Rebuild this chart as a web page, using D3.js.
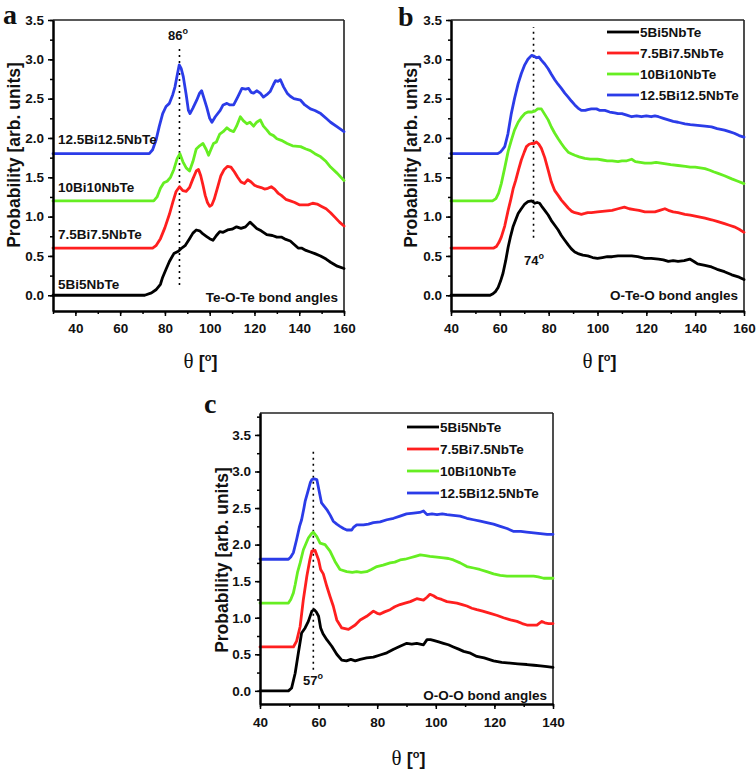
<!DOCTYPE html>
<html><head><meta charset="utf-8">
<script src="https://cdn.jsdelivr.net/npm/d3@7"></script>
<style>
body{margin:0;background:#fff}
svg{display:block}
text{font-family:"Liberation Sans",Arial,sans-serif;font-weight:bold;fill:#111}
</style>
</head><body><svg id="chart" width="756" height="772"></svg>
<script>
// ---------- data ----------
const seriesNames = ["5Bi5NbTe","7.5Bi7.5NbTe","10Bi10NbTe","12.5Bi12.5NbTe"];
const seriesColors = ["#000000","#ff1f1f","#66ee22","#2b3ce8"];
const yTickValues = [0,0.5,1.0,1.5,2.0,2.5,3.0,3.5];

// (a) Te-O-Te bond angles  [theta, probability]
const teOte_5Bi = [[30,0],[71,0],[74,0.03],[76,0.07],[78,0.14],[79,0.23],[80.5,0.33],[82,0.43],[84,0.53],[86,0.56],[87.5,0.6],[89,0.63],[91,0.72],[92.5,0.79],[94,0.83],[95.5,0.82],[97,0.78],[98.5,0.75],[100,0.72],[101.5,0.7],[103,0.76],[104.5,0.81],[106,0.8],[108,0.83],[110,0.84],[112,0.87],[114,0.85],[116,0.87],[118,0.93],[119.5,0.89],[121,0.85],[123,0.82],[125.5,0.77],[128,0.76],[130,0.74],[132,0.74],[134,0.71],[136,0.69],[138,0.64],[139.5,0.6],[141,0.6],[143,0.57],[145,0.55],[147,0.53],[149.5,0.5],[152,0.46],[154,0.42],[157,0.37],[160,0.34]];
const teOte_7Bi = [[30,0.6],[74.5,0.6],[76,0.63],[78,0.72],[80,0.86],[82,1.03],[83.5,1.18],[85,1.32],[86.5,1.38],[88,1.33],[89.5,1.32],[91,1.37],[92.5,1.48],[94,1.58],[95,1.6],[96,1.52],[97,1.4],[98,1.27],[99,1.18],[100,1.13],[101,1.15],[102,1.22],[103.5,1.37],[105,1.52],[106.5,1.6],[108,1.64],[109.5,1.63],[111,1.57],[112.5,1.5],[114,1.44],[115.5,1.42],[117,1.47],[118.5,1.44],[120,1.4],[121.5,1.38],[123,1.37],[124.5,1.35],[126,1.36],[127.5,1.38],[129,1.35],[130.5,1.3],[132,1.27],[134,1.22],[136,1.2],[138,1.18],[140,1.15],[142,1.15],[144,1.15],[146,1.17],[148,1.16],[150,1.13],[152,1.1],[154,1.05],[156,0.99],[158,0.93],[160,0.88]];
const teOte_10Bi = [[30,1.2],[75,1.2],[76.5,1.25],[78,1.36],[79.5,1.43],[81,1.45],[82.5,1.5],[84,1.6],[85.5,1.74],[86.7,1.8],[88,1.7],[89.5,1.62],[91,1.58],[92.5,1.7],[94,1.86],[95.5,1.9],[97,1.93],[98.5,1.85],[99.5,1.78],[100.5,1.85],[101.7,1.93],[103,1.95],[104.5,2.05],[106,2.08],[107.7,2.13],[109,2.1],[110.7,2.08],[112,2.15],[113.7,2.27],[115,2.22],[116.6,2.18],[118,2.2],[119.6,2.15],[121,2.2],[122.6,2.23],[124,2.15],[125.6,2.1],[127,2.05],[128.5,2.03],[130,1.99],[132,1.97],[134.6,1.93],[137,1.9],[140.6,1.89],[143,1.86],[145,1.84],[147,1.8],[149.6,1.76],[152,1.7],[154,1.63],[157,1.55],[160,1.46]];
const teOte_12Bi = [[30,1.8],[73,1.8],[74.5,1.85],[76,1.97],[77.5,2.15],[79,2.31],[80.5,2.4],[82,2.44],[83.5,2.55],[84.5,2.65],[85.5,2.8],[86.4,2.93],[87.3,2.88],[88.2,2.78],[89.5,2.55],[90.5,2.35],[91.2,2.31],[92.5,2.38],[94.2,2.48],[95.5,2.57],[96.4,2.6],[97.5,2.5],[98.7,2.39],[100,2.25],[101,2.2],[102.5,2.27],[104.7,2.35],[106,2.42],[107.7,2.44],[109,2.42],[110.7,2.42],[112.5,2.52],[114.4,2.63],[116,2.62],[117.4,2.63],[118.5,2.58],[119.6,2.57],[121,2.6],[122.6,2.57],[124,2.52],[125.5,2.55],[127,2.59],[128.5,2.68],[129.4,2.73],[130.5,2.72],[131.6,2.74],[133,2.65],[134.6,2.57],[136,2.53],[137.6,2.5],[140.6,2.48],[142.5,2.42],[145,2.37],[147,2.35],[149.6,2.31],[152,2.25],[154,2.2],[157,2.14],[160,2.08]];

// (b) O-Te-O bond angles
const oTeo_5Bi = [[40,0],[56,0],[57.2,0.02],[58.3,0.05],[59.3,0.1],[60.3,0.18],[61.3,0.28],[62.4,0.44],[63.4,0.61],[64.4,0.75],[65.4,0.87],[66.5,0.96],[67.5,1.04],[68.8,1.1],[70.2,1.16],[71.5,1.19],[73,1.2],[74.3,1.17],[75.3,1.18],[76.3,1.17],[77.4,1.12],[78.4,1.08],[79.8,1.02],[81.1,0.95],[82.5,0.89],[83.9,0.83],[85.2,0.76],[86.6,0.7],[88,0.64],[89.3,0.59],[90.7,0.55],[92,0.53],[94,0.51],[96,0.5],[98,0.48],[100,0.47],[102,0.48],[104,0.49],[106,0.49],[108.4,0.5],[111,0.5],[114,0.5],[116.5,0.49],[119.4,0.47],[122,0.47],[125,0.46],[127,0.45],[129,0.43],[131,0.44],[133,0.43],[135.5,0.44],[137.8,0.46],[139.5,0.43],[141,0.4],[144,0.38],[146.7,0.36],[149,0.33],[152,0.3],[155,0.26],[158,0.23],[160,0.2]];
const oTeo_7Bi = [[40,0.6],[57.5,0.6],[58.6,0.62],[59.6,0.67],[60.6,0.74],[62,0.88],[63.4,1.08],[64.5,1.22],[65.5,1.36],[66.5,1.46],[67.7,1.6],[68.8,1.72],[70,1.82],[70.9,1.89],[72,1.92],[73,1.93],[74,1.93],[75,1.95],[76,1.92],[77,1.87],[78.4,1.75],[79.8,1.59],[81.1,1.44],[82.5,1.33],[83.9,1.27],[85.2,1.21],[86.6,1.16],[88,1.11],[89.3,1.07],[90.7,1.05],[92,1.04],[93.4,1.03],[94.8,1.04],[96,1.05],[97.5,1.05],[100,1.06],[103,1.07],[106,1.08],[108.4,1.1],[111,1.12],[113,1.1],[115,1.09],[117,1.08],[119.4,1.06],[121.5,1.06],[123.5,1.06],[125.5,1.08],[127.6,1.1],[129,1.08],[131,1.06],[133,1.05],[135.8,1.03],[138,1.02],[141,1.0],[144,0.98],[146.7,0.96],[149,0.94],[152,0.91],[154,0.89],[156,0.87],[158,0.84],[160,0.8]];
const oTeo_10Bi = [[40,1.2],[57,1.2],[58.4,1.23],[59.5,1.3],[60.6,1.42],[62,1.62],[63.4,1.83],[64.7,1.97],[66,2.1],[67.5,2.2],[68.8,2.26],[70.2,2.31],[71.5,2.33],[73,2.33],[74.3,2.34],[75.5,2.37],[77,2.37],[78.4,2.3],[79.8,2.23],[81.1,2.14],[82.5,2.06],[83.9,1.99],[85.2,1.93],[86.6,1.87],[88,1.82],[89.3,1.8],[90.7,1.78],[92.5,1.76],[94.8,1.74],[97,1.73],[100,1.73],[102,1.72],[104,1.71],[106,1.71],[108.4,1.7],[110,1.71],[112,1.71],[114,1.73],[115.5,1.7],[117.5,1.69],[119.4,1.68],[122,1.68],[124,1.69],[126,1.68],[128,1.67],[130,1.66],[133,1.65],[136,1.64],[138,1.63],[140,1.63],[142,1.62],[144,1.61],[146,1.59],[147.5,1.57],[149.4,1.55],[152,1.52],[155,1.48],[157.5,1.45],[160,1.42]];
const oTeo_12Bi = [[40,1.8],[59,1.8],[60.2,1.82],[61,1.85],[62,1.89],[63.3,2.05],[64.7,2.31],[66,2.5],[67.5,2.69],[68.8,2.82],[70.2,2.93],[71.5,3.0],[73,3.05],[74,3.04],[75,3.02],[76,3.03],[77,2.99],[78.4,2.94],[79.8,2.88],[81.1,2.81],[82.5,2.74],[83.9,2.68],[85.2,2.63],[86.6,2.57],[88,2.52],[89.3,2.47],[90.7,2.42],[92,2.38],[93.4,2.35],[95,2.35],[96,2.36],[97.5,2.37],[99.6,2.37],[101,2.35],[103,2.35],[105,2.33],[107,2.32],[108.4,2.31],[110,2.31],[112,2.29],[114,2.27],[116,2.28],[118,2.27],[120,2.28],[122,2.27],[123.5,2.28],[125,2.27],[127,2.25],[129,2.23],[131,2.21],[133,2.2],[135.8,2.18],[138,2.17],[141,2.16],[144,2.15],[146.7,2.14],[149,2.12],[152,2.1],[154,2.08],[156,2.06],[158,2.03],[160,2.01]];

// (c) O-O-O bond angles
const oOo_5Bi = [[40,0],[49.7,0],[50.8,0.04],[52,0.24],[53.1,0.52],[54.2,0.79],[55.4,0.86],[56.5,0.95],[57.7,1.09],[58.5,1.11],[59.2,1.08],[60,1.02],[60.7,0.86],[61.5,0.78],[62.8,0.7],[64.5,0.61],[66.2,0.5],[67.9,0.42],[69.5,0.41],[71,0.43],[72.5,0.41],[74.2,0.43],[76.4,0.45],[78.7,0.46],[81,0.49],[83.3,0.52],[85.6,0.57],[87.8,0.61],[90.1,0.65],[91.8,0.64],[93.5,0.65],[95.8,0.63],[97,0.7],[98.2,0.7],[99.2,0.69],[101,0.67],[102.6,0.65],[104.3,0.63],[106,0.6],[107.8,0.57],[109.5,0.54],[111.5,0.52],[114,0.47],[116.5,0.45],[119.7,0.41],[122.5,0.39],[125.4,0.38],[128,0.37],[131.1,0.36],[133.5,0.35],[135.7,0.34],[138,0.33],[140,0.32]];
const oOo_7Bi = [[40,0.6],[51.4,0.6],[52.5,0.68],[53.7,0.88],[54.8,1.25],[56,1.57],[57,1.79],[57.7,1.91],[58.8,1.92],[60,1.79],[60.7,1.66],[61.6,1.6],[62.8,1.43],[63.9,1.29],[65,1.16],[66.2,0.97],[67.9,0.86],[70.2,0.84],[72.5,0.9],[74.2,0.97],[76.4,1.02],[78.7,1.09],[80,1.06],[81,1.05],[82.5,1.08],[84.4,1.11],[86,1.15],[87.8,1.18],[89.5,1.2],[91.3,1.22],[93.5,1.26],[95.8,1.24],[97,1.28],[98,1.32],[99.2,1.3],[100.4,1.27],[102,1.25],[103.8,1.22],[105.5,1.21],[107.2,1.2],[109,1.18],[110.6,1.16],[112.3,1.13],[114,1.11],[116,1.09],[118.6,1.06],[121,1.03],[123.1,1.0],[125.5,0.97],[127.7,0.95],[129.5,0.92],[131.1,0.9],[133,0.9],[134.5,0.9],[135.5,0.93],[136.2,0.95],[137.2,0.93],[138.5,0.92],[140,0.92]];
const oOo_10Bi = [[40,1.2],[49.7,1.2],[50.5,1.25],[51.4,1.34],[52,1.45],[52.8,1.62],[53.7,1.75],[54.8,1.93],[56.5,2.09],[57.6,2.15],[58.2,2.17],[59.4,2.11],[60.5,2.02],[62.2,2.0],[63.9,1.91],[65.6,1.77],[67.3,1.66],[69.6,1.63],[71.5,1.62],[73,1.63],[74.5,1.62],[76.4,1.63],[78,1.66],[79.9,1.7],[82,1.72],[84.4,1.75],[86,1.76],[87.8,1.79],[89.5,1.8],[91.3,1.82],[93,1.84],[94.7,1.86],[96.5,1.85],[98,1.84],[100.4,1.83],[102.6,1.82],[104.3,1.81],[106,1.79],[108.3,1.75],[110.6,1.7],[112.9,1.68],[115,1.66],[117.4,1.63],[119.7,1.6],[122,1.58],[124.3,1.57],[126.6,1.57],[128.8,1.57],[131,1.57],[133.4,1.57],[135,1.56],[136.8,1.54],[138.5,1.54],[140,1.54]];
const oOo_12Bi = [[40,1.8],[49.7,1.8],[50.5,1.83],[51.4,1.89],[52.5,2.07],[53.5,2.25],[54.2,2.34],[55,2.5],[55.4,2.59],[56.5,2.75],[57.2,2.85],[57.7,2.89],[58.5,2.9],[59.4,2.89],[60.3,2.71],[61,2.57],[61.8,2.53],[62.8,2.48],[64,2.4],[65,2.32],[66.2,2.28],[67.3,2.25],[68.5,2.22],[69.6,2.2],[71.3,2.2],[72,2.24],[73,2.27],[75.3,2.27],[77,2.28],[78.7,2.3],[81,2.31],[83.3,2.34],[85.6,2.36],[87.8,2.39],[90,2.42],[92.4,2.43],[94.5,2.44],[95.8,2.46],[97,2.41],[98.7,2.42],[100.4,2.41],[102.2,2.42],[103.8,2.41],[106,2.4],[108.3,2.39],[110.6,2.36],[112.9,2.34],[115.2,2.32],[117.4,2.3],[119.7,2.28],[122,2.25],[124.3,2.22],[126.6,2.18],[129,2.18],[131,2.17],[133.4,2.16],[135.7,2.15],[138,2.14],[140,2.14]];

const peakAngles = [86, 74, 57];
const peakMarkerAt = [86.5, 73.8, 58.2];
const bondLabels = ["Te-O-Te bond angles","O-Te-O bond angles","O-O-O bond angles"];

// ---------- drawing ----------
const svg = d3.select("#chart");

function drawPanel(cfg){
  const g = svg.append("g");
  const x = d3.scaleLinear().domain(cfg.xDomain).range([cfg.left, cfg.right]);
  const y = d3.scaleLinear().domain(cfg.yDomain).range([cfg.bottom, cfg.top]);

  // frame top/right
  g.append("line").attr("x1",cfg.left).attr("x2",cfg.right).attr("y1",cfg.top).attr("y2",cfg.top)
    .attr("stroke","#222").attr("stroke-width",1.6);
  g.append("line").attr("x1",cfg.right).attr("x2",cfg.right).attr("y1",cfg.top).attr("y2",cfg.bottom)
    .attr("stroke","#222").attr("stroke-width",1.6);

  // dotted peak marker
  g.append("line").attr("x1",x(cfg.dot)).attr("x2",x(cfg.dot))
    .attr("y1",y(cfg.dotRange[0])).attr("y2",y(cfg.dotRange[1]))
    .attr("stroke","#000").attr("stroke-width",1.6).attr("stroke-dasharray","2,4");

  // curves
  const line = d3.line().x(d=>x(d[0])).y(d=>y(d[1]));
  cfg.series.forEach((s,i)=>{
    g.append("path").datum(s).attr("d",line).attr("fill","none")
      .attr("stroke",seriesColors[i]).attr("stroke-width",2.8)
      .attr("stroke-linejoin","round").attr("stroke-linecap","round");
  });

  // axes
  const minorX = d3.range(cfg.xDomain[0], cfg.xDomain[1]+0.1, 10);
  const majorX = d3.range(40, cfg.xDomain[1]+0.1, 20);
  const minorY = d3.range(0, cfg.yDomain[1]+0.01, 0.25);
  const styleAxis = sel => {
    sel.attr("font-family",null).attr("font-size",null);
    sel.select(".domain").attr("stroke","#000").attr("stroke-width",2);
    sel.selectAll(".tick line").attr("stroke","#000").attr("stroke-width",1.5);
    sel.selectAll("text").style("font-size","13.5px").attr("fill","#111");
  };
  g.append("g").attr("transform",`translate(0,${cfg.bottom})`)
    .call(d3.axisBottom(x).tickValues(minorX).tickSize(3).tickSizeOuter(0).tickFormat(""))
    .call(styleAxis);
  g.append("g").attr("transform",`translate(0,${cfg.bottom})`)
    .call(d3.axisBottom(x).tickValues(majorX).tickSize(5).tickSizeOuter(0).tickPadding(cfg.xPad).tickFormat(d3.format("d")))
    .call(styleAxis);
  g.append("g").attr("transform",`translate(${cfg.left},0)`)
    .call(d3.axisLeft(y).tickValues(minorY).tickSize(3).tickSizeOuter(0).tickFormat(""))
    .call(styleAxis);
  g.append("g").attr("transform",`translate(${cfg.left},0)`)
    .call(d3.axisLeft(y).tickValues(yTickValues).tickSize(5).tickSizeOuter(0).tickPadding(4).tickFormat(d3.format(".1f")))
    .call(styleAxis);

  // y title
  g.append("text").attr("transform",`translate(${cfg.yTitleX},${cfg.yTitleY}) rotate(-90)`)
    .attr("text-anchor","middle").style("font-size","17.5px").text("Probability [arb. units]");
  // x title
  const xt = g.append("text").attr("x",(cfg.left+cfg.right)/2+2).attr("y",cfg.xTitleY)
    .attr("text-anchor","middle").style("font-size","18px");
  xt.append("tspan").style("font-family","'Liberation Serif','Times New Roman',serif").style("font-weight","normal").style("font-size","21px").text("θ");
  xt.append("tspan").text(" [");
  xt.append("tspan").attr("dy",-7).style("font-size","11px").text("o");
  xt.append("tspan").attr("dy",7).text("]");

  // panel letter
  g.append("text").attr("x",cfg.letter[0]).attr("y",cfg.letter[1])
    .style("font-family","'Liberation Serif','Times New Roman',serif").style("font-size","28px").text(cfg.letterText);

  // bond label
  g.append("text").attr("x",cfg.right-6).attr("y",cfg.bondY).attr("text-anchor","end")
    .style("font-size","13.5px").text(cfg.bond);

  // peak label
  const pl = g.append("text").attr("x",cfg.peakPos[0]).attr("y",cfg.peakPos[1]).attr("text-anchor","middle").style("font-size","13px");
  pl.append("tspan").text(cfg.peak);
  pl.append("tspan").attr("dy",-6).style("font-size","9px").text("o");

  // legend or inline labels
  if (cfg.legend){
    seriesNames.forEach((n,i)=>{
      const ly = cfg.legend[1] + i*cfg.legend[2];
      g.append("line").attr("x1",cfg.legend[0]).attr("x2",cfg.legend[0]+32).attr("y1",ly).attr("y2",ly)
        .attr("stroke",seriesColors[i]).attr("stroke-width",2.8);
      g.append("text").attr("x",cfg.legend[0]+33).attr("y",ly+5).style("font-size","13.5px").text(n);
    });
  } else {
    cfg.inline.forEach((ly,i)=>{
      g.append("text").attr("x",cfg.left+5).attr("y",ly).style("font-size","13.5px").text(seriesNames[i]);
    });
  }
}

drawPanel({
  xDomain:[30,160], yDomain:[-0.2,3.5], left:53, right:344, top:20, bottom:311,
  series:[teOte_5Bi,teOte_7Bi,teOte_10Bi,teOte_12Bi],
  dot:peakMarkerAt[0], dotRange:[0.13,3.16], peak:String(peakAngles[0]), peakPos:[178,40],
  bond:bondLabels[0], bondY:302, xPad:7, xTitleY:368, yTitleX:20, yTitleY:155,
  letter:[3,24], letterText:"a", inline:[289,239,192,144]
});
drawPanel({
  xDomain:[40,160], yDomain:[-0.2,3.5], left:451, right:744, top:20, bottom:311,
  series:[oTeo_5Bi,oTeo_7Bi,oTeo_10Bi,oTeo_12Bi],
  dot:peakMarkerAt[1], dotRange:[0.73,3.41], peak:String(peakAngles[1]), peakPos:[534,265],
  bond:bondLabels[1], bondY:300, xPad:7, xTitleY:368, yTitleX:417, yTitleY:155,
  letter:[398,26], letterText:"b", legend:[607,32,21]
});
drawPanel({
  xDomain:[40,140], yDomain:[-0.18,3.8], left:260, right:553, top:413, bottom:704,
  series:[oOo_5Bi,oOo_7Bi,oOo_10Bi,oOo_12Bi],
  dot:peakMarkerAt[2], dotRange:[0.29,3.32], peak:String(peakAngles[2]), peakPos:[313,685],
  bond:bondLabels[2], bondY:700, xPad:8, xTitleY:765, yTitleX:228, yTitleY:560,
  letter:[204,413], letterText:"c", legend:[407,427,22]
});
</script>
</body></html>
